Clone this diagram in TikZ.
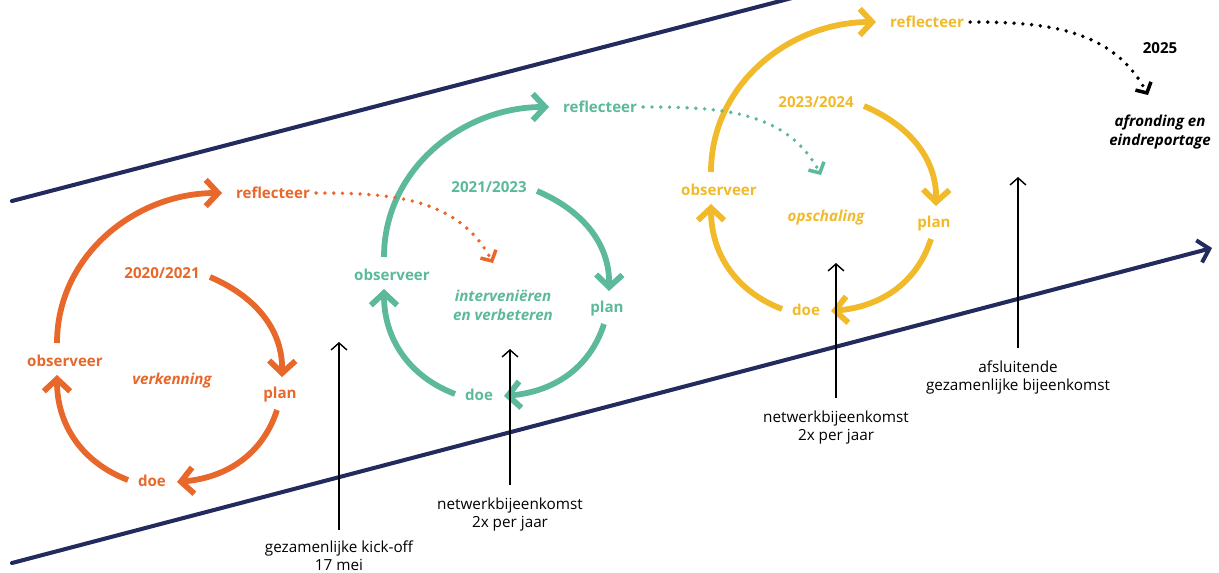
\documentclass[tikz,border=0pt]{standalone}
\usepackage{fontspec}
\setmainfont{Open Sans}
\usetikzlibrary{arrows.meta,positioning}

\definecolor{oranje}{HTML}{E8672A}
\definecolor{groen}{HTML}{5CB99C}
\definecolor{geel}{HTML}{F1BA2A}
\definecolor{navy}{HTML}{232A5E}

\begin{document}
\begin{tikzpicture}[x=0.02cm, y=0.02cm,
    cyc/.style={line width=3.3pt, -{Straight Barb[length=7pt,width=15pt]}},
    stap/.style={font=\fontsize{8.6}{10}\selectfont\bfseries},
    fase/.style={font=\fontsize{8.6}{10.8}\selectfont\bfseries\itshape, align=center},
    dots/.style={line width=2.2pt, line cap=round, dash pattern=on 0pt off 5pt,
                 -{Straight Barb[length=4.5pt,width=10pt,line width=2pt]}},
    tijd/.style={draw=navy, line width=2.3pt},
    pijl/.style={line width=0.8pt, -{Straight Barb[length=4pt,width=9pt]}},
    lbl/.style={font=\fontsize{8.7}{10.4}\selectfont, align=center, inner sep=1pt}]

\useasboundingbox (0,0) rectangle (1219,-572);

% === Time band ===
\coordinate (top0) at (12,-201);
\coordinate (top1) at (792,2);
\coordinate (low0) at (12,-563);
\coordinate (low1) at (1212,-248);
\draw[tijd, line cap=round] (top0) -- (top1);
\draw[tijd, line cap=round, -{Straight Barb[length=6pt,width=13pt]}] (low0) -- (low1);

% === Cycle 1: verkenning ===
\begin{scope}[shift={(168,-375)}, color=oranje]
\node[stap] (r1) at (105,182)  {reflecteer};
\node[stap] (j1) at (-6,102)   {2020/2021};
\node[stap] (p1) at (112,-20)  {plan};
\node[stap] (d1) at (-16,-106) {doe};
\node[stap] (o1) at (-103,14)  {observeer};
\node[fase] (f1) at (4,-6)     {verkenning};
\coordinate (b1s) at (-111,32);  \coordinate (b1e) at (54,182);
\coordinate (a1s) at (42,98);    \coordinate (a1e) at (114,-2);
\coordinate (c1s) at (109,-35);  \coordinate (c1e) at (9,-107);
\coordinate (e1s) at (-40,-105); \coordinate (e1e) at (-111,0);
\draw[cyc] (b1s) to[out=90, in=180] (b1e);
\draw[cyc] (a1s) to[out=-23, in=89] (a1e);
\draw[cyc] (c1s) to[out=-108, in=5] (c1e);
\draw[cyc] (e1s) to[out=159, in=-90] (e1e);
\end{scope}

% === Cycle 2: interveni\"eren ===
\begin{scope}[shift={(495,-289)}, color=groen]
\node[stap] (r2) at (105,182)  {reflecteer};
\node[stap] (j2) at (-6,102)   {2021/2023};
\node[stap] (p2) at (112,-20)  {plan};
\node[stap] (d2) at (-16,-106) {doe};
\node[stap] (o2) at (-103,14)  {observeer};
\node[fase] (f2) at (8,-16)    {interveniëren\\en verbeteren};
\coordinate (in2) at (-2,26);
\coordinate (b2s) at (-111,32);  \coordinate (b2e) at (54,182);
\coordinate (a2s) at (42,98);    \coordinate (a2e) at (114,-2);
\coordinate (c2s) at (109,-35);  \coordinate (c2e) at (9,-107);
\coordinate (e2s) at (-40,-105); \coordinate (e2e) at (-111,0);
\draw[cyc] (b2s) to[out=90, in=180] (b2e);
\draw[cyc] (a2s) to[out=-23, in=89] (a2e);
\draw[cyc] (c2s) to[out=-108, in=5] (c2e);
\draw[cyc] (e2s) to[out=159, in=-90] (e2e);
\end{scope}

% === Cycle 3: opschaling ===
\begin{scope}[shift={(822,-204)}, color=geel]
\node[stap] (r3) at (105,182)  {reflecteer};
\node[stap] (j3) at (-6,102)   {2023/2024};
\node[stap] (p3) at (112,-20)  {plan};
\node[stap] (d3) at (-16,-106) {doe};
\node[stap] (o3) at (-103,14)  {observeer};
\node[fase] (f3) at (4,-14)    {opschaling};
\coordinate (in3) at (-1,29);
\coordinate (b3s) at (-111,32);  \coordinate (b3e) at (54,182);
\coordinate (a3s) at (42,98);    \coordinate (a3e) at (114,-2);
\coordinate (c3s) at (109,-35);  \coordinate (c3e) at (9,-107);
\coordinate (e3s) at (-40,-105); \coordinate (e3e) at (-111,0);
\draw[cyc] (b3s) to[out=90, in=180] (b3e);
\draw[cyc] (a3s) to[out=-23, in=89] (a3e);
\draw[cyc] (c3s) to[out=-108, in=5] (c3e);
\draw[cyc] (e3s) to[out=159, in=-90] (e3e);
\end{scope}

% === End ===
\node[stap] (jaar) at (1160,-48) {2025};
\node[fase] (eind) at (1160,-132) {afronding en\\eindreportage};
\coordinate (in4) at (1148,-95);

% === Dotted transitions ===
\draw[dots, oranje] (r1.east) to[out=0, in=118] (in2);
\draw[dots, groen]  (r2.east) to[out=0, in=118] (in3);
\draw[dots, black]  (r3.east) to[out=0, in=118] (in4);

% === Meetings ===
\coordinate (k0) at (339,-530);  \coordinate (k1) at (339,-342);
\coordinate (n0) at (510,-485);  \coordinate (n1) at (510,-349);
\coordinate (m0) at (836,-398);  \coordinate (m1) at (836,-263);
\coordinate (s0) at (1018,-348); \coordinate (s1) at (1018,-177);
\draw[pijl] (k0) -- (k1);
\draw[pijl] (n0) -- (n1);
\draw[pijl] (m0) -- (m1);
\draw[pijl] (s0) -- (s1);
\node[lbl, below=5pt of k0] {gezamenlijke kick-off\\17 mei};
\node[lbl, below=6pt of n0] {netwerkbijeenkomst\\2x per jaar};
\node[lbl, below=6pt of m0] {netwerkbijeenkomst\\2x per jaar};
\node[lbl, below=6pt of s0] {afsluitende\\gezamenlijke bijeenkomst};

\end{tikzpicture}
\end{document}
